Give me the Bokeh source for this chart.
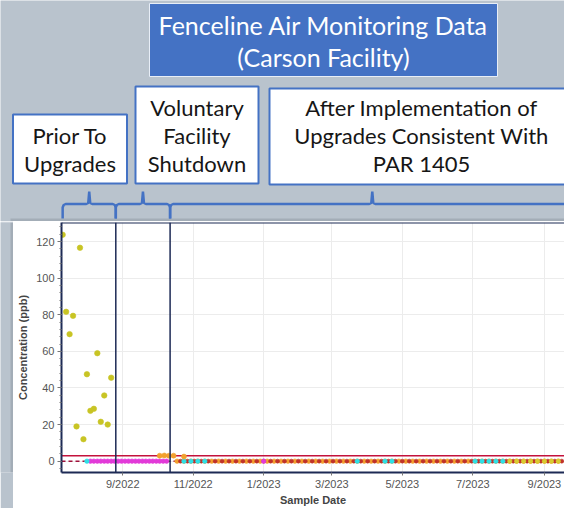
import datetime as dt
import numpy as np
import pandas as pd
from bokeh.plotting import figure
from bokeh.layouts import column, row
from bokeh.models import (Span, Range1d, FixedTicker, SingleIntervalTicker, CustomJSTickFormatter)
from bokeh.core.properties import value
from bokeh.embed import file_html
from bokeh.resources import INLINE

# ---------------- data ----------------
prior_dates = ["2022-07-11", "2022-07-14", "2022-07-17", "2022-07-20", "2022-07-23",
               "2022-07-26", "2022-07-29", "2022-08-01", "2022-08-04", "2022-08-07",
               "2022-08-10", "2022-08-13", "2022-08-16", "2022-08-19", "2022-08-22"]
prior_ppb = [123.7, 81.6, 69.4, 79.4, 19.0, 116.6, 12.0, 47.5, 27.5, 28.6,
             59.0, 21.5, 35.9, 20.0, 45.6]

shutdown_dates = ["2022-10-03", "2022-10-07", "2022-10-11", "2022-10-15", "2022-10-24"]
shutdown_ppb = [3.0, 3.1, 3.0, 3.0, 2.5]

# near-zero (non-detect) readings: sampling schedules, reading 0 ppb
magenta_dates = list(pd.date_range("2022-08-04", "2022-10-09", freq="3D").strftime("%Y-%m-%d")) + ["2023-01-01"]
orange_dates = list(pd.date_range("2022-10-18", "2023-09-16", freq="6D").strftime("%Y-%m-%d"))
darkred_dates = list(pd.date_range("2022-10-21", "2023-09-16", freq="6D").strftime("%Y-%m-%d"))
cyan_dates = ["2022-08-01", "2022-10-24", "2022-10-30", "2022-11-05", "2022-11-11",
              "2023-03-23", "2023-04-16", "2023-04-22",
              "2023-07-03", "2023-07-09", "2023-07-15", "2023-07-21", "2023-07-27"]
yellow_late_dates = ["2023-08-02", "2023-08-08", "2023-08-14", "2023-08-20",
                     "2023-08-26", "2023-09-01", "2023-09-07", "2023-09-13"]
nondetect_ppb = 0.0

threshold_ppb = 3.0
baseline_ppb = 0.0

periods = [("2022-07-11", "2022-08-26"), ("2022-08-26", "2022-10-12"), ("2022-10-12", "2023-09-27")]
period_lines = ["2022-08-26", "2022-10-12"]

x_ticks = ["2022-09-01", "2022-11-01", "2023-01-01", "2023-03-01",
           "2023-05-01", "2023-07-01", "2023-09-01"]

title_lines = ["Fenceline Air Monitoring Data", "(Carson Facility)"]
box_texts = [["Prior To", "Upgrades"],
             ["Voluntary", "Facility", "Shutdown"],
             ["After Implementation of", "Upgrades Consistent With", "PAR 1405"]]

# ---------------- geometry / style ----------------
W, H = 564, 508
HDR_H = 221            # header strip height
STRIP_W = 13           # grey strip left of the chart panel
FRAME_L = 61           # page x of chart frame left
X0 = pd.Timestamp("2022-07-10")
X1 = pd.Timestamp("2023-09-18 09:00")
px_per_day = (W - FRAME_L) / ((X1 - X0) / pd.Timedelta(days=1))
HX0 = X0 - pd.Timedelta(days=FRAME_L / px_per_day)

BG = "#b9c3cd"
BLUE = "#4472c4"
NAVY = "#1d2a55"
CRIMSON = "#c4123c"

def ts(s):
    return pd.Timestamp(s).to_pydatetime()

def ms(s):
    return pd.Timestamp(s).value / 1e6

def px2t(x):
    return (HX0 + pd.Timedelta(days=x / px_per_day)).to_pydatetime()

def dpx(t, dx):
    return (pd.Timestamp(t) + pd.Timedelta(days=dx / px_per_day)).to_pydatetime()

# ---------------- header figure ----------------
hdr = figure(width=W, height=HDR_H, x_axis_type="datetime",
             x_range=Range1d(HX0.to_pydatetime(), X1.to_pydatetime()),
             y_range=Range1d(HDR_H, 0),
             x_axis_location=None, y_axis_location=None,
             min_border=0, min_border_left=0, min_border_right=0,
             min_border_top=0, min_border_bottom=0,
             output_backend="svg", toolbar_location=None)
hdr.border_fill_color = BG
hdr.background_fill_color = BG
hdr.outline_line_color = None
hdr.grid.visible = False

# panel shadow
hdr.quad(left=[px2t(STRIP_W - 3)], right=[px2t(W + 5)], top=[HDR_H - 3], bottom=[HDR_H],
         fill_color="#a3adb7", line_color=None)

# title box
hdr.quad(left=[px2t(149)], right=[px2t(497)], top=[3], bottom=[76],
         fill_color=BLUE, line_color="#e8eef7", line_width=1)
hdr.text(x=[px2t(323)] * 2, y=[24, 56], text=title_lines, text_align="center",
         text_baseline="middle", text_color="white", text_font=value("Lato"),
         text_font_size="25px")

box_geo = [(12.5, 126.5, 114, 183, 69.5, [135, 163]),
           (135, 258, 86, 183, 196.5, [107, 135, 163]),
           (269, 620, 88, 184, 421, [107, 135, 163])]
for (l, r, t, b, cx, ys), lines in zip(box_geo, box_texts):
    hdr.quad(left=[px2t(l)], right=[px2t(r)], top=[t], bottom=[b],
             fill_color="white", line_color=BLUE, line_width=2)
    hdr.text(x=[px2t(cx)] * len(lines), y=ys, text=lines, text_align="center",
             text_baseline="middle", text_color="#161616", text_font=value("Lato"),
             text_font_size="22px")

# brackets (x positions are the period bounds in dates)
bx, by = [], []
for a, b in periods:
    m = pd.Timestamp(a) + (pd.Timestamp(b) - pd.Timestamp(a)) / 2
    bx.append([dpx(a, 0), dpx(a, 0), dpx(a, 1), dpx(a, 3), dpx(m, -3), dpx(m, -1), dpx(m, 0),
               dpx(m, 1), dpx(m, 3), dpx(b, -3), dpx(b, -1), dpx(b, 0), dpx(b, 0)])
    by.append([218, 207, 204.5, 203.5, 203.5, 202.5, 191, 202.5, 203.5, 203.5, 204.5, 207, 218])
hdr.multi_line(bx, by, line_color=BLUE, line_width=2.5)

# ---------------- left grey strip ----------------
strip = figure(width=STRIP_W, height=H - HDR_H, x_range=Range1d(0, STRIP_W), y_range=Range1d(1, 0),
               x_axis_location=None, y_axis_location=None, min_border=0,
               min_border_left=0, min_border_right=0, min_border_top=0, min_border_bottom=0,
               output_backend="svg", toolbar_location=None)
strip.border_fill_color = BG
strip.background_fill_color = BG
strip.outline_line_color = None
strip.grid.visible = False
strip.quad(left=[STRIP_W - 3], right=[STRIP_W], top=[0], bottom=[1], fill_color="#a3adb7", line_color=None)

# ---------------- chart ----------------
p = figure(width=W - STRIP_W, height=H - HDR_H, x_axis_type="datetime",
           output_backend="svg", toolbar_location=None,
           x_range=Range1d(X0.to_pydatetime(), X1.to_pydatetime()),
           y_range=Range1d(-6.2, 130.4),
           min_border_left=FRAME_L - STRIP_W, min_border_right=0,
           min_border_top=1, min_border_bottom=36)
p.border_fill_color = "white"
p.background_fill_color = "white"
p.outline_line_color = None

p.xgrid.grid_line_color = "#ececec"
p.ygrid.grid_line_color = "#ececec"

p.xaxis.ticker = FixedTicker(ticks=[ms(t) for t in x_ticks])
p.xaxis.formatter = CustomJSTickFormatter(
    code="const d = new Date(tick); return (d.getUTCMonth() + 1) + '/' + d.getUTCFullYear();")
p.yaxis.ticker = SingleIntervalTicker(interval=20, num_minor_ticks=5)
for ax in (p.xaxis[0], p.yaxis[0]):
    ax.axis_line_color = NAVY
    ax.axis_line_width = 2
    ax.major_tick_line_color = "#777777"
    ax.minor_tick_line_color = "#777777"
    ax.major_tick_in = 0
    ax.minor_tick_in = 0
    ax.major_label_text_color = "#555555"
    ax.major_label_text_font = "Liberation Sans"
    ax.major_label_text_font_size = "11px"
    ax.axis_label_text_font = "Liberation Sans"
    ax.axis_label_text_font_size = "11px"
    ax.axis_label_text_font_style = "bold"
    ax.axis_label_text_color = "#444444"
p.xaxis.major_tick_out = 3
p.xaxis.minor_tick_line_color = None
p.xaxis.major_label_standoff = 2
p.xaxis.axis_label_standoff = 1
p.yaxis.major_tick_out = 4
p.yaxis.minor_tick_out = 2
p.yaxis.major_label_standoff = 3
p.yaxis.axis_label_standoff = 4
p.xaxis.axis_label = "Sample Date"
p.yaxis.axis_label = "Concentration (ppb)"

# top frame line
p.add_layout(Span(location=130.4, dimension="width", line_color=NAVY, line_width=2))

# reference lines
p.add_layout(Span(location=threshold_ppb, dimension="width", line_color=CRIMSON,
                  line_width=1.5, level="underlay"))
p.add_layout(Span(location=baseline_ppb, dimension="width", line_color="#a0103a",
                  line_width=1.5, line_dash="4 3", level="underlay"))

def pts(dates, vals, color, size):
    p.scatter([ts(d) for d in dates], vals, size=size, fill_color=color,
              line_color=color, line_alpha=0.6)

pts(orange_dates, [nondetect_ppb] * len(orange_dates), "#f2a12e", 4.5)
pts(darkred_dates, [nondetect_ppb] * len(darkred_dates), "#c0322a", 4)
pts(magenta_dates, [nondetect_ppb] * len(magenta_dates), "#e23ad8", 4.5)
pts(cyan_dates, [nondetect_ppb] * len(cyan_dates), "#2ee0e6", 4.5)
pts(yellow_late_dates, [nondetect_ppb] * len(yellow_late_dates), "#d8cc30", 4.5)
pts(shutdown_dates, shutdown_ppb, "#f2a12e", 5)
pts(prior_dates, prior_ppb, "#c8c424", 5.5)

for d in period_lines:
    p.add_layout(Span(location=ms(d), dimension="height", line_color=NAVY, line_width=1.5))

layout = column(hdr, row(strip, p, spacing=0), spacing=0)
open("out.html", "w").write(file_html(layout, INLINE))
